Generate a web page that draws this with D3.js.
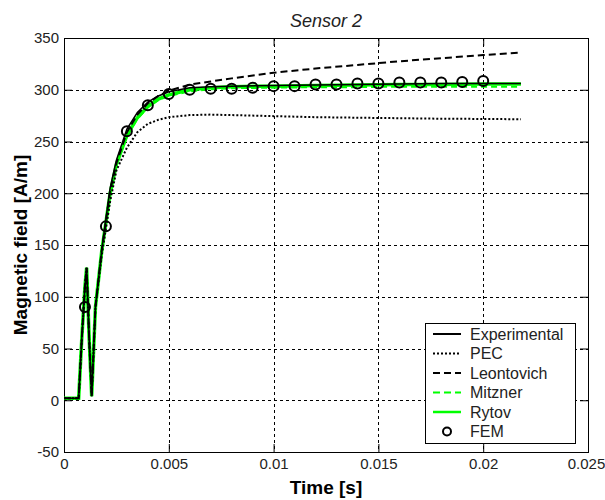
<html>
<head>
  <meta charset="utf-8">
  <title>Sensor 2</title>
  <script src="https://d3js.org/d3.v7.min.js"></script>
  <style>
    body { margin: 0; background: #fff; }
    text { font-family: "Liberation Sans", Arial, sans-serif; }
  </style>
</head>
<body>
  <script>
    // time samples [s] for the simulated / measured curves
    let time = [0, 0.0007, 0.00085, 0.001, 0.00108, 0.0012, 0.00132, 0.0015, 0.0018, 0.002,
                0.0022, 0.0025, 0.003, 0.0035, 0.004, 0.0045, 0.005, 0.006, 0.007, 0.008,
                0.01, 0.012, 0.014, 0.016, 0.018, 0.02, 0.0218];

    let experimental = [2, 2, 60, 110, 128, 60, 4, 90, 145, 175,
                        205, 232, 262, 278, 288, 294, 298, 302, 303, 303.5,
                        304, 304.5, 305, 305.5, 306, 306, 306];
    let pec = [2, 2, 60, 110, 128, 60, 4, 90, 140, 166,
               192, 222, 244, 259, 267, 271, 273.5, 275.5, 276, 275.5,
               274.5, 273.5, 273, 272.5, 272, 271.8, 271.5];
    let leontovich = [2, 2, 60, 110, 128, 60, 4, 90, 145, 173,
                      202, 229, 259, 276, 287, 294, 299, 305, 308, 311,
                      316.5, 320.5, 324, 327.5, 330.5, 333.5, 336];
    let mitzner = [2, 2, 60, 110, 128, 60, 4, 90, 144, 171,
                   199, 227, 255, 272, 283, 290, 294, 298.5, 300.5, 301.5,
                   302, 302.5, 302.5, 303, 303, 303, 303];
    let rytov = [2, 2, 60, 110, 128, 60, 4, 90, 144, 172,
                 200, 228, 256, 273, 284, 291, 295, 300, 302, 303,
                 303.5, 304, 304.5, 305, 305, 305.5, 305.5];

    // FEM points
    let femTime = [0.001, 0.002, 0.003, 0.004, 0.005, 0.006, 0.007, 0.008, 0.009, 0.01,
                   0.011, 0.012, 0.013, 0.014, 0.015, 0.016, 0.017, 0.018, 0.019, 0.02];
    let femValue = [90, 168, 260, 285, 296, 300, 301, 301, 302, 303.5,
                    303.5, 305, 305, 306, 306, 307, 307, 307, 307.5, 308.5];

    let xTicks = [0, 0.005, 0.01, 0.015, 0.02, 0.025];
    let yTicks = [-50, 0, 50, 100, 150, 200, 250, 300, 350];

    let width = 605;
    let height = 500;
    let pLeft = 64, pRight = 588, pTop = 38, pBottom = 452;
    let green = "#00ff00";

    let svg = d3.select("body")
      .append("svg")
      .attr("width", width)
      .attr("height", height);

    let x = d3.scaleLinear().domain([0, 0.025]).range([pLeft, pRight]);
    let y = d3.scaleLinear().domain([-50, 350]).range([pBottom, pTop]);

    // grid
    let grid = svg.append("g")
      .attr("stroke", "#000")
      .attr("stroke-width", 1)
      .attr("stroke-dasharray", "3,3");
    grid.selectAll(".gx")
      .data(xTicks.slice(1, -1))
      .enter()
      .append("line")
      .attr("x1", d => Math.round(x(d)) + 0.5)
      .attr("x2", d => Math.round(x(d)) + 0.5)
      .attr("y1", pTop)
      .attr("y2", pBottom);
    grid.selectAll(".gy")
      .data(yTicks.slice(1, -1))
      .enter()
      .append("line")
      .attr("y1", d => Math.round(y(d)) + 0.5)
      .attr("y2", d => Math.round(y(d)) + 0.5)
      .attr("x1", pLeft)
      .attr("x2", pRight);

    // axes, ticks inward like matlab
    let fmt = d => String(d);
    let axB = svg.append("g")
      .attr("transform", "translate(0," + pBottom + ")")
      .call(d3.axisBottom(x).tickValues(xTicks).tickFormat(fmt).tickSize(-8).tickPadding(6));
    let axT = svg.append("g")
      .attr("transform", "translate(0," + pTop + ")")
      .call(d3.axisTop(x).tickValues(xTicks).tickFormat("").tickSize(-8));
    let axL = svg.append("g")
      .attr("transform", "translate(" + pLeft + ",0)")
      .call(d3.axisLeft(y).tickValues(yTicks).tickFormat(fmt).tickSize(-8).tickPadding(5));
    let axR = svg.append("g")
      .attr("transform", "translate(" + pRight + ",0)")
      .call(d3.axisRight(y).tickValues(yTicks).tickFormat("").tickSize(-8));

    [axB, axT, axL, axR].forEach(function(a) {
      a.select(".domain").remove();
      a.selectAll("line").attr("stroke", "#000");
      a.selectAll("text")
        .attr("fill", "#222")
        .style("font-size", "15px")
        .style("font-family", "'Liberation Sans', Arial, sans-serif");
    });
    // last x label sits right at the page edge
    axB.selectAll("text").filter(d => d === 0.025).attr("dx", -2);

    svg.append("rect")
      .attr("x", pLeft + 0.5)
      .attr("y", pTop + 0.5)
      .attr("width", pRight - pLeft)
      .attr("height", pBottom - pTop)
      .attr("fill", "none")
      .attr("stroke", "#000")
      .attr("stroke-width", 1);

    // curves
    let line = function(values) {
      return d3.line()
        .x((d, i) => x(time[i]))
        .y(d => y(d))(values);
    };

    let series = [
      { name: "Rytov", values: rytov, color: green, width: 3.5, dash: null },
      { name: "Mitzner", values: mitzner, color: green, width: 2, dash: "6,4" },
      { name: "PEC", values: pec, color: "#000", width: 2, dash: "2,2" },
      { name: "Leontovich", values: leontovich, color: "#000", width: 2, dash: "7,4" },
      { name: "Experimental", values: experimental, color: "#000", width: 1.5, dash: null }
    ];

    svg.append("g").selectAll("path")
      .data(series)
      .enter()
      .append("path")
      .attr("d", d => line(d.values))
      .attr("fill", "none")
      .attr("stroke", d => d.color)
      .attr("stroke-width", d => d.width)
      .attr("stroke-dasharray", d => d.dash);

    svg.append("g").selectAll("circle")
      .data(femTime)
      .enter()
      .append("circle")
      .attr("cx", d => x(d))
      .attr("cy", (d, i) => y(femValue[i]))
      .attr("r", 5)
      .attr("fill", "none")
      .attr("stroke", "#000")
      .attr("stroke-width", 2);

    // legend
    let legendItems = [
      { name: "Experimental", color: "#000", width: 2, dash: null },
      { name: "PEC", color: "#000", width: 2, dash: "2,2" },
      { name: "Leontovich", color: "#000", width: 2, dash: "7,4" },
      { name: "Mitzner", color: green, width: 2, dash: "7,4" },
      { name: "Rytov", color: green, width: 2.5, dash: null },
      { name: "FEM", marker: true }
    ];

    let legend = svg.append("g");
    legend.append("rect")
      .attr("x", 425.5)
      .attr("y", 323.5)
      .attr("width", 150)
      .attr("height", 120)
      .attr("fill", "#fff")
      .attr("stroke", "#000");

    let rows = legend.selectAll(".row")
      .data(legendItems)
      .enter()
      .append("g")
      .attr("transform", (d, i) => "translate(0," + (334 + i * 19.5) + ")");

    rows.filter(d => !d.marker)
      .append("line")
      .attr("x1", 433)
      .attr("x2", 461)
      .attr("stroke", d => d.color)
      .attr("stroke-width", d => d.width)
      .attr("stroke-dasharray", d => d.dash);

    rows.filter(d => d.marker)
      .append("circle")
      .attr("cx", 447)
      .attr("r", 4)
      .attr("fill", "none")
      .attr("stroke", "#000")
      .attr("stroke-width", 2);

    rows.append("text")
      .attr("x", 470)
      .attr("dy", "0.36em")
      .attr("fill", "#222")
      .style("font-size", "16px")
      .text(d => d.name);

    // title and labels
    svg.append("text")
      .attr("x", (pLeft + pRight) / 2)
      .attr("y", 27)
      .attr("text-anchor", "middle")
      .attr("fill", "#222")
      .style("font-size", "18px")
      .style("font-style", "italic")
      .text("Sensor 2");

    svg.append("text")
      .attr("x", (pLeft + pRight) / 2)
      .attr("y", 494)
      .attr("text-anchor", "middle")
      .style("font-size", "19px")
      .style("font-weight", "bold")
      .text("Time [s]");

    svg.append("text")
      .attr("transform", "translate(27," + ((pTop + pBottom) / 2) + ") rotate(-90)")
      .attr("text-anchor", "middle")
      .style("font-size", "19px")
      .style("font-weight", "bold")
      .text("Magnetic field [A/m]");
  </script>
</body>
</html>
